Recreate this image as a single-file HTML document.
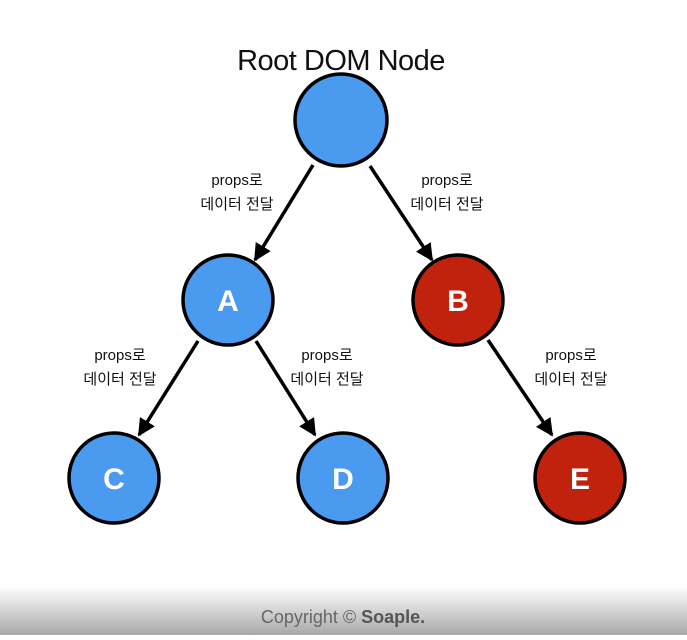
<!DOCTYPE html>
<html><head><meta charset="utf-8"><style>
body{margin:0;width:687px;height:635px;overflow:hidden;background:#fff}
</style></head><body>
<svg width="687" height="635" xmlns="http://www.w3.org/2000/svg">
<defs>
<linearGradient id="g" x1="0" y1="0" x2="0" y2="1"><stop offset="0" stop-color="#fefefe"/><stop offset="1" stop-color="#a8a8a8"/></linearGradient>
<marker id="ar" viewBox="0 0 10 10" refX="9" refY="5" markerWidth="5" markerHeight="5" orient="auto"><path d="M0,0 L10,5 L0,10 z" fill="#000"/></marker>
</defs>
<rect x="0" y="587" width="687" height="48" fill="url(#g)"/>
<g stroke="#000" stroke-width="3.5" marker-end="url(#ar)">
<line x1="313" y1="165" x2="255" y2="260"/>
<line x1="370" y1="166" x2="432" y2="260"/>
<line x1="198" y1="341" x2="139" y2="435"/>
<line x1="256" y1="341" x2="315" y2="435"/>
<line x1="488" y1="340" x2="552" y2="435"/>
</g>
<g stroke="#000" stroke-width="3.5">
<circle cx="341" cy="120" r="46" fill="#4a9bef"/>
<circle cx="228" cy="300" r="45" fill="#4a9bef"/>
<circle cx="458" cy="300" r="45" fill="#c0220d"/>
<circle cx="114" cy="478" r="45" fill="#4a9bef"/>
<circle cx="343" cy="478" r="45" fill="#4a9bef"/>
<circle cx="580" cy="478" r="45" fill="#c0220d"/>
</g>
<g font-family="Liberation Sans, sans-serif" font-weight="bold" font-size="30" fill="#fff" text-anchor="middle">
<text x="228" y="311">A</text><text x="458" y="311">B</text><text x="114" y="489">C</text><text x="343" y="489">D</text><text x="580" y="489">E</text>
</g>
<text x="341" y="70" font-family="Liberation Sans, sans-serif" font-size="29" text-anchor="middle" fill="#111" letter-spacing="-0.5">Root DOM Node</text>
<g font-family="Liberation Sans, 'Noto Sans CJK KR', sans-serif" font-size="15" fill="#111" text-anchor="middle">
<text x="237" y="185">props로</text><text x="237" y="209">데이터 전달</text>
<text x="447" y="185">props로</text><text x="447" y="209">데이터 전달</text>
<text x="120" y="360">props로</text><text x="120" y="384">데이터 전달</text>
<text x="327" y="360">props로</text><text x="327" y="384">데이터 전달</text>
<text x="571" y="360">props로</text><text x="571" y="384">데이터 전달</text>
</g>
<text x="343" y="623" font-family="Liberation Sans, sans-serif" font-size="18" text-anchor="middle" fill="#666">Copyright © <tspan font-weight="bold" fill="#555">Soaple.</tspan></text>
</svg>
</body></html>
